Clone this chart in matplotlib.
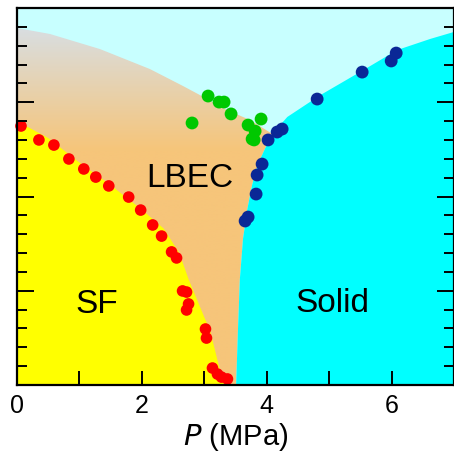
import numpy as np
import matplotlib.pyplot as plt
from matplotlib.patches import Polygon
from matplotlib.ticker import MultipleLocator, FuncFormatter
from matplotlib.colors import to_rgb

plt.rcParams['font.family'] = ['Liberation Sans', 'DejaVu Sans']

# phase boundaries, P in MPa, T in K
sf_edge_P = [0.0, 0.5, 1.0, 1.5, 2.0, 2.35, 2.6, 2.75, 2.95, 3.1, 3.22, 3.32]
sf_edge_T = [1.40, 1.31, 1.18, 1.06, 0.93, 0.83, 0.70, 0.56, 0.40, 0.28, 0.12, 0.0]

lbec_top_P = [0.0, 0.53, 1.33, 2.13, 2.66, 3.05, 3.33, 3.73, 4.09]
lbec_top_T = [1.894, 1.862, 1.782, 1.676, 1.586, 1.517, 1.464, 1.406, 1.332]

melt_P = [3.51, 3.54, 3.57, 3.62, 3.69, 3.77, 3.86, 3.97, 4.09]
melt_T = [0.0, 0.297, 0.562, 0.775, 0.934, 1.066, 1.172, 1.252, 1.332]

solid_top_P = [4.09, 4.33, 4.86, 5.55, 6.09, 6.62, 7.0]
solid_top_T = [1.332, 1.422, 1.538, 1.671, 1.777, 1.836, 1.873]

# measured points
red_P = [0.064, 0.351, 0.591, 0.831, 1.070, 1.262, 1.470, 1.789, 1.981, 2.173,
         2.316, 2.476, 2.556, 2.652, 2.716, 2.748, 2.716, 3.019, 3.035, 3.131,
         3.211, 3.275, 3.371]
red_T = [1.374, 1.300, 1.273, 1.199, 1.146, 1.103, 1.056, 0.997, 0.928, 0.849,
         0.790, 0.706, 0.674, 0.499, 0.493, 0.430, 0.398, 0.297, 0.249, 0.090,
         0.058, 0.042, 0.032]

green_P = [3.061, 3.237, 3.317, 3.429, 2.804, 3.910, 3.702, 3.814, 3.798, 3.766]
green_T = [1.533, 1.501, 1.501, 1.438, 1.390, 1.411, 1.379, 1.347, 1.300, 1.305]

blue_P = [6.074, 5.994, 5.529, 4.808, 4.247, 4.167, 4.022, 3.926, 3.846, 3.830,
          3.702, 3.654]
blue_T = [1.761, 1.719, 1.660, 1.517, 1.358, 1.342, 1.300, 1.172, 1.114, 1.013,
          0.891, 0.870]

fig = plt.figure(figsize=(4.54, 4.56), dpi=100)
ax = fig.add_axes([17 / 454, 70 / 456, 437 / 454, 377 / 456])
ax.set_xlim(0, 7)
ax.set_ylim(0, 2)
ax.set_facecolor('#C8FFFF')

# LBEC region with a vertical colour gradient
lbec_xy = [(0, 0)] + list(zip(lbec_top_P, lbec_top_T)) + list(zip(melt_P[::-1], melt_T[::-1]))
lbec_patch = Polygon(lbec_xy, closed=True, facecolor='none', edgecolor='none')
ax.add_patch(lbec_patch)
t = np.linspace(0, 2, 300)
c_top = np.array(to_rgb('#D8DEE2'))
c_low = np.array(to_rgb('#F6C57A'))
w = np.clip((t - 1.25) / (1.9 - 1.25), 0, 1)[:, None]
grad = (c_low * (1 - w) + c_top * w)[:, None, :]
im = ax.imshow(grad, extent=[0, 7, 0, 2], origin='lower', aspect='auto',
               interpolation='bilinear', zorder=1)
im.set_clip_path(lbec_patch)

solid_xy = list(zip(melt_P, melt_T)) + list(zip(solid_top_P[1:], solid_top_T[1:])) + [(7, 0)]
ax.add_patch(Polygon(solid_xy, closed=True, facecolor='#00FFFF', edgecolor='none', zorder=2))

sf_xy = [(0, 0)] + list(zip(sf_edge_P, sf_edge_T))
ax.add_patch(Polygon(sf_xy, closed=True, facecolor='#FFFF00', edgecolor='none', zorder=2))

ax.scatter(red_P, red_T, s=70, color='#FF0000', edgecolors='none', zorder=5, clip_on=False)
ax.scatter(green_P, green_T, s=85, color='#00C800', edgecolors='none', zorder=5)
ax.scatter(blue_P, blue_T, s=85, color='#0A2896', edgecolors='none', zorder=6)

ax.text(2.77, 1.10, 'LBEC', fontsize=24, ha='center', va='center', zorder=7)
ax.text(1.28, 0.43, 'SF', fontsize=24, ha='center', va='center', zorder=7)
ax.text(5.06, 0.44, 'Solid', fontsize=24, ha='center', va='center', zorder=7)

ax.xaxis.set_major_locator(MultipleLocator(2))
ax.xaxis.set_minor_locator(MultipleLocator(1))
ax.xaxis.set_major_formatter(FuncFormatter(lambda v, p: f'{v:.0f}'))
ax.yaxis.set_major_locator(MultipleLocator(0.5))
ax.yaxis.set_minor_locator(MultipleLocator(0.1))
ax.tick_params(axis='x', which='both', direction='in', length=10, width=1.4,
               labelsize=18, pad=6, top=False)
ax.tick_params(axis='y', which='major', direction='in', length=12, width=1.4,
               left=True, right=True, labelleft=False)
ax.tick_params(axis='y', which='minor', direction='in', length=7, width=1.4,
               left=True, right=True)
# ticks sit on top of the filled regions
ax.xaxis.set_zorder(9)
ax.yaxis.set_zorder(9)
for s in ax.spines.values():
    s.set_linewidth(1.6)
    s.set_zorder(10)

ax.set_xlabel(r'$\mathit{P}$ (MPa)', fontsize=21, labelpad=2)

fig.savefig('out.png', dpi=100)
